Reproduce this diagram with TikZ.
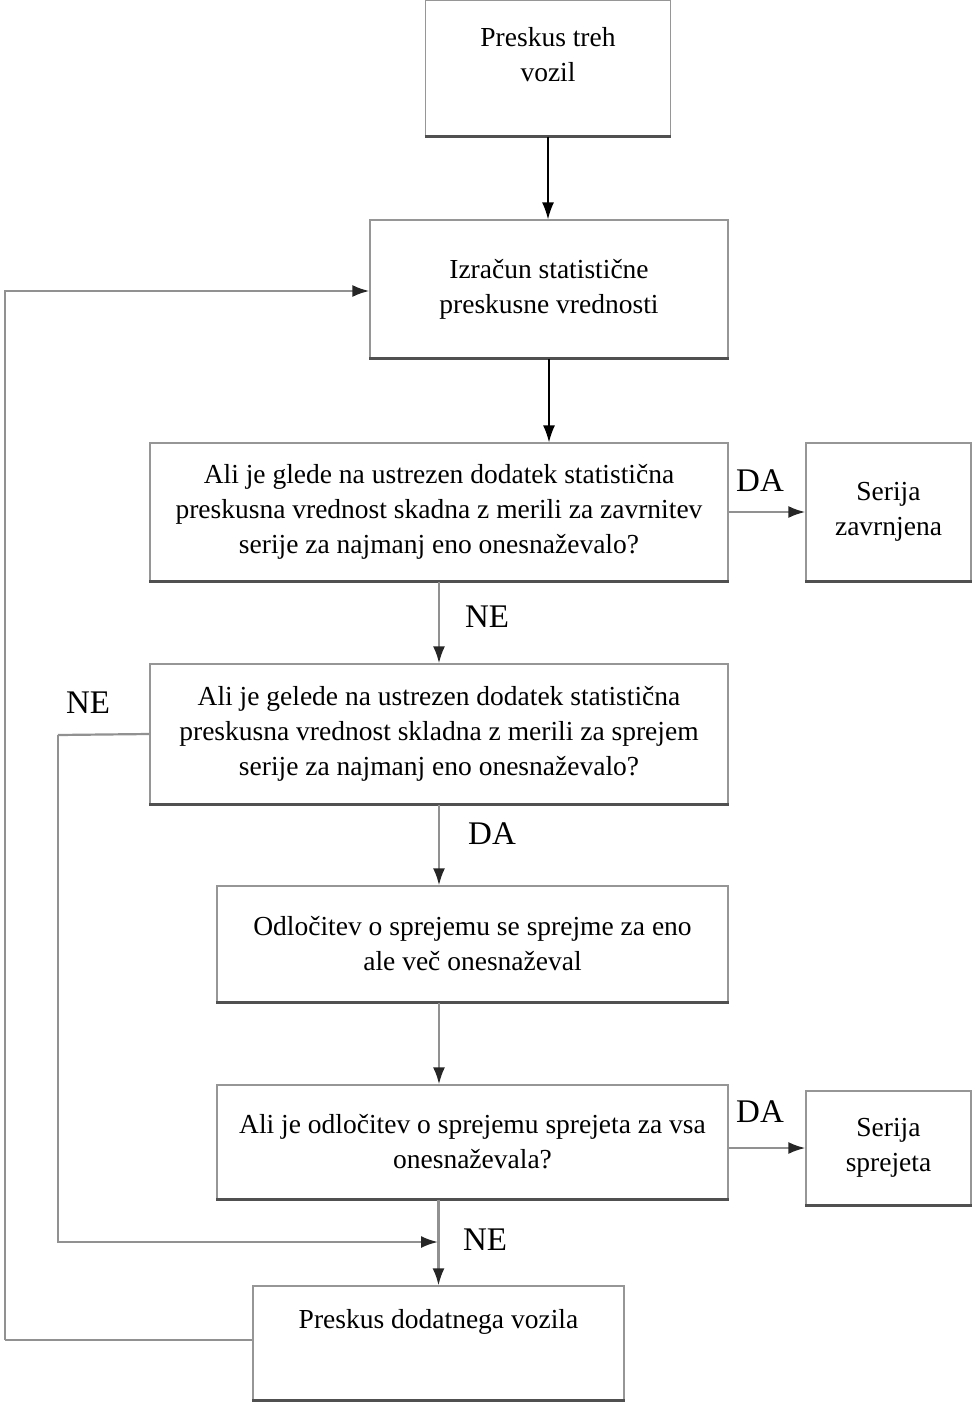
\documentclass[tikz,border=0pt]{standalone}
\usepackage{fontspec}
\setmainfont{Liberation Serif}
\usetikzlibrary{arrows.meta}
\definecolor{boxgray}{RGB}{150,150,150}
\definecolor{shadegray}{RGB}{80,80,80}
\definecolor{linkgray}{RGB}{145,145,145}

\begin{document}
\begin{tikzpicture}[x=1pt,y=-1pt,
    stepbox/.style={draw=boxgray,line width=1.3pt,fill=white,inner sep=0pt,
      align=center,font=\fontsize{27.5}{35}\selectfont},
    shade/.style={draw=shadegray,line width=2.6pt},
    flow/.style={line width=1.4pt,-{Latex[length=17pt,width=12pt]}},
    link/.style={draw=linkgray,line width=2.2pt,-{Latex[length=17pt,width=12pt,color=black!85]}},
    plain/.style={draw=linkgray,line width=2.2pt},
    answer/.style={font=\fontsize{33}{33}\selectfont}]

  \useasboundingbox (0,0) rectangle (975,1404);

  % --- boxes of the procedure ---
  \node[stepbox,minimum width=245pt,text height=82pt,text depth=54pt] (b1) at (548,68)
    {Preskus treh\\vozil};
  \node[stepbox,minimum width=358pt,minimum height=138pt] (b2) at (549,289)
    {Izračun statistične\\preskusne vrednosti};
  \node[stepbox,minimum width=578pt,minimum height=138pt] (b3) at (439,512)
    {Ali je glede na ustrezen dodatek statistična\\preskusna vrednost skadna z merili za zavrnitev\\serije za najmanj eno onesnaževalo?};
  \node[stepbox,minimum width=165pt,minimum height=138pt] (b4) at (888.5,512)
    {Serija\\zavrnjena};
  \node[stepbox,minimum width=578pt,minimum height=140pt] (b5) at (439,734)
    {Ali je gelede na ustrezen dodatek statistična\\preskusna vrednost skladna z merili za sprejem\\serije za najmanj eno onesnaževalo?};
  \node[stepbox,minimum width=511pt,minimum height=116pt] (b6) at (472.5,944)
    {Odločitev o sprejemu se sprejme za eno\\ale več onesnaževal};
  \node[stepbox,minimum width=511pt,minimum height=114pt] (b7) at (472.5,1142)
    {Ali je odločitev o sprejemu sprejeta za vsa\\onesnaževala?};
  \node[stepbox,minimum width=165pt,minimum height=114pt] (b8) at (888.5,1148)
    {Serija\\sprejeta};
  \node[stepbox,minimum width=371pt,text height=42pt,text depth=72pt] (b9) at (438.5,1343)
    {Preskus dodatnega vozila};

  % --- darker lower edges ---
  \foreach \n in {b1,b2,b3,b4,b5,b6,b7,b8,b9}
    \draw[shade] (\n.south west) -- (\n.south east);

  % --- main flow ---
  \draw[flow] (b1.south) -- (b1.south |- b2.north);
  \draw[flow] (b2.south) -- (b2.south |- b3.north);
  \draw[link] (b3.south) -- (b3.south |- b5.north);
  \draw[link] (b5.south) -- (b5.south |- b6.north);
  \draw[link] (b5.south |- b6.south) -- (b5.south |- b7.north);
  \draw[link] (b9.north |- b7.south) -- (b9.north);
  \draw[link] (b3.east) -- (b4.west);
  \draw[link] (b7.east |- b8.west) -- (b8.west);

  % --- loops back ---
  \coordinate (loopA) at (58,735);
  \coordinate (merge) at (438,1242);
  \draw[plain] (b5.west) -- (loopA);
  \draw[link] (loopA) |- (merge);
  \coordinate (loopB) at (5,1340);
  \draw[plain] (b9.west |- loopB) -- (loopB);
  \draw[link] (loopB) |- (b2.west |- 0,291);

  % --- answers ---
  \node[answer] (da1) at (760,481) {DA};
  \node[answer] (ne1) at (487,617) {NE};
  \node[answer] (ne2) at (88,703) {NE};
  \node[answer] (da2) at (492,834) {DA};
  \node[answer] (da3) at (760,1112) {DA};
  \node[answer] (ne3) at (485,1240) {NE};
\end{tikzpicture}
\end{document}
